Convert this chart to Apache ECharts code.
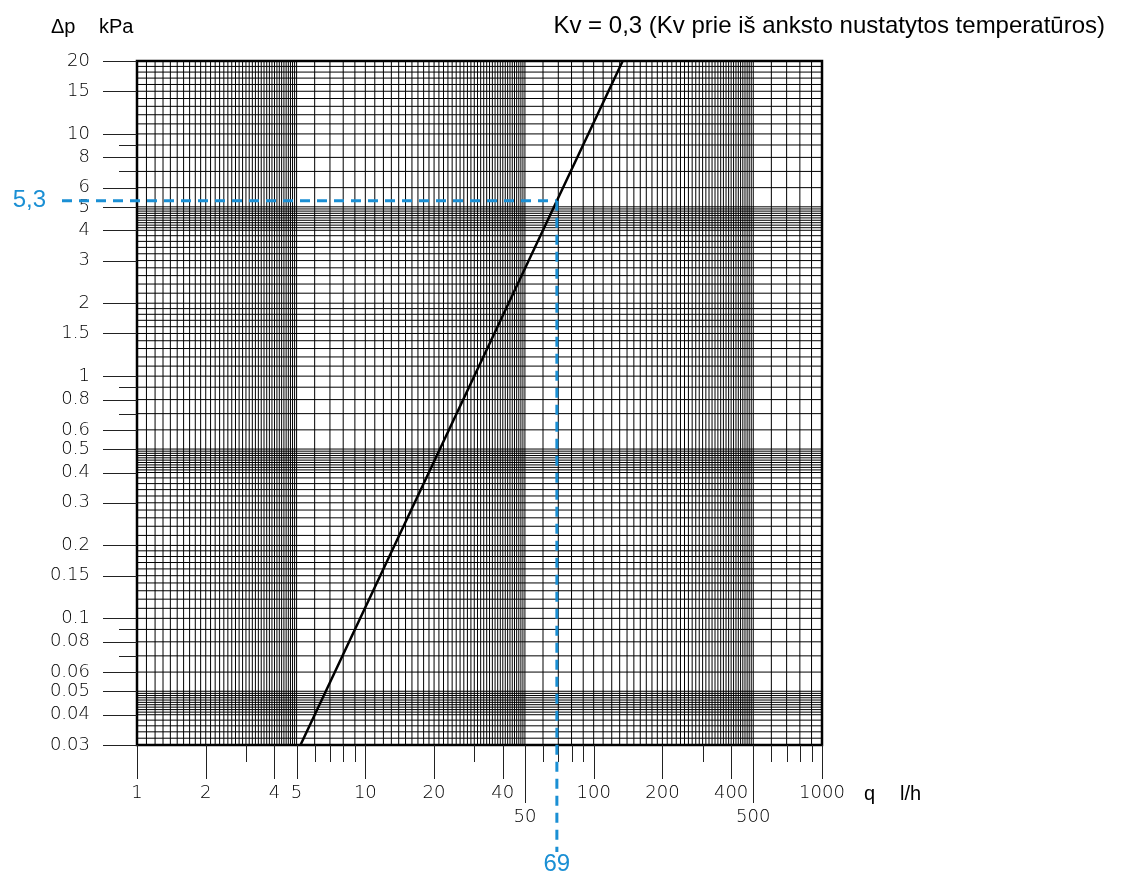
<!DOCTYPE html>
<html><head><meta charset="utf-8">
<script src="https://cdn.jsdelivr.net/npm/echarts@6/dist/echarts.min.js"></script>
<style>html,body{margin:0;padding:0;background:#fff}#c{width:1122px;height:875px}</style>
</head><body><div id="c"></div>
<script>
// ---------- data ----------
const curveQ  = [5.2, 69, 134];          // l/h
const curveDp = [0.03, 5.3, 20];         // kPa
const readQ = 69, readDp = 5.3;
const readQLabel = '69', readDpLabel = '5,3';

const X_MIN = 1, X_MAX = 1000, Y_MIN = 0.03, Y_MAX = 20;

const xLongTicks  = [1, 2, 4, 5, 10, 20, 40, 100, 200, 400, 1000];
const xLongLabels = ['1','2','4','5','10','20','40','100','200','400','1000'];
const xLowTicks   = [50, 500];
const xLowLabels  = ['50','500'];
const xShortTicks = [3, 6, 7, 8, 9, 30, 60, 70, 80, 90, 300, 600, 700, 800, 900];

const yTicks  = [20, 15, 10, 8, 6, 5, 4, 3, 2, 1.5, 1, 0.8, 0.6, 0.5, 0.4, 0.3, 0.2, 0.15, 0.1, 0.08, 0.06, 0.05, 0.04, 0.03];
const yLabels = ['20','15','10','8','6','5','4','3','2','1.5','1','0.8','0.6','0.5','0.4','0.3','0.2','0.15','0.1','0.08','0.06','0.05','0.04','0.03'];
const yShortTicks = [9, 7, 0.9, 0.7, 0.09, 0.07];

// grid line positions inside one decade (mantissas) and the decades used
const xGridMant = [1,1.1,1.2,1.3,1.4,1.5,1.6,1.7,1.8,1.9,2,2.1,2.2,2.3,2.4,2.5,2.6,2.7,2.8,2.9,3,3.1,3.2,3.3,3.4,3.5,3.6,3.7,3.8,3.9,4,4.1,4.2,4.3,4.4,4.5,4.6,4.7,4.8,4.9,5,6,7,8,9];
const xDecades = [1, 10, 100, 1000];
const yGridMant = [1,1.1,1.2,1.3,1.4,1.5,1.6,1.7,1.8,1.9,2,2.2,2.4,2.6,2.8,3,3.2,3.4,3.6,3.8,4,4.1,4.2,4.3,4.4,4.5,4.6,4.7,4.8,4.9,5,6,7,8,9];
const yDecades = [0.01, 0.1, 1, 10];

// ---------- build ----------
function gridValues(mant, decades, lo, hi) {
  const out = [];
  decades.forEach(d => mant.forEach(m => {
    const v = +(m * d).toPrecision(6);
    if (v >= lo * (1 - 1e-9) && v <= hi * (1 + 1e-9)) out.push(v);
  }));
  return out;
}
const xGrid = gridValues(xGridMant, xDecades, X_MIN, X_MAX);
const yGrid = gridValues(yGridMant, yDecades, Y_MIN, Y_MAX);

const TICK_FONT = { fontFamily: 'DejaVu Sans', fontWeight: 200, fontSize: 18, fill: '#000' };
const BLUE = '#1a8fd4';
const GRID_STROKE = { stroke: '#000', lineWidth: 1 };

const chart = echarts.init(document.getElementById('c'), null, { renderer: 'canvas' });

const hiddenAxis = {
  axisLine: { show: false }, axisTick: { show: false },
  axisLabel: { show: false }, splitLine: { show: false }
};

chart.setOption({
  animation: false,
  backgroundColor: '#fff',
  title: {
    text: 'Kv = 0,3 (Kv prie iš anksto nustatytos temperatūros)',
    right: 12, top: 9,
    textStyle: { fontFamily: 'Liberation Sans', fontWeight: 'normal', fontSize: 24, color: '#000' }
  },
  graphic: [
    { type: 'text', left: 51, top: 17, style: { text: 'Δp', font: '20px "Liberation Sans"', fill: '#000' } },
    { type: 'text', left: 99, top: 17, style: { text: 'kPa', font: '20px "Liberation Sans"', fill: '#000' } },
    { type: 'text', left: 864, top: 784, style: { text: 'q', font: '20px "Liberation Sans"', fill: '#000' } },
    { type: 'text', left: 900, top: 784, style: { text: 'l/h', font: '20px "Liberation Sans"', fill: '#000' } }
  ],
  grid: { left: 137, right: 300, top: 61, bottom: 130, show: true, borderColor: '#000', borderWidth: 2.5, backgroundColor: 'transparent' },
  xAxis: Object.assign({ type: 'log', logBase: 10, min: X_MIN, max: X_MAX }, hiddenAxis),
  yAxis: Object.assign({ type: 'log', logBase: 10, min: Y_MIN, max: Y_MAX }, hiddenAxis),
  series: [
    // vertical grid lines
    {
      type: 'custom', silent: true, clip: false, z: 1,
      data: xGrid.map(v => [v, Y_MIN]),
      renderItem: (p, api) => {
        const a = api.coord([api.value(0), Y_MIN]), b = api.coord([api.value(0), Y_MAX]);
        return { type: 'line', shape: { x1: a[0], y1: a[1], x2: b[0], y2: b[1] }, style: GRID_STROKE };
      }
    },
    // horizontal grid lines
    {
      type: 'custom', silent: true, clip: false, z: 1,
      data: yGrid.map(v => [X_MIN, v]),
      renderItem: (p, api) => {
        const a = api.coord([X_MIN, api.value(1)]), b = api.coord([X_MAX, api.value(1)]);
        return { type: 'line', shape: { x1: a[0], y1: a[1], x2: b[0], y2: b[1] }, style: GRID_STROKE };
      }
    },
    // y ticks with labels
    {
      type: 'custom', silent: true, clip: false, z: 2,
      data: yTicks.map((v, i) => [X_MIN, v, i]),
      renderItem: (p, api) => {
        const a = api.coord([X_MIN, api.value(1)]);
        const y = Math.round(a[1]) + 0.5;
        return { type: 'group', children: [
          { type: 'line', shape: { x1: a[0] - 34, y1: y, x2: a[0], y2: y }, style: { stroke: '#222', lineWidth: 1 } },
          { type: 'text', x: a[0] - 47, y: a[1], style: Object.assign({ text: yLabels[api.value(2)], align: 'right', verticalAlign: 'middle' }, TICK_FONT) }
        ]};
      }
    },
    // y short ticks
    {
      type: 'custom', silent: true, clip: false, z: 2,
      data: yShortTicks.map(v => [X_MIN, v]),
      renderItem: (p, api) => {
        const a = api.coord([X_MIN, api.value(1)]);
        const y = Math.round(a[1]) + 0.5;
        return { type: 'line', shape: { x1: a[0] - 18, y1: y, x2: a[0], y2: y }, style: { stroke: '#222', lineWidth: 1 } };
      }
    },
    // x long ticks with labels
    {
      type: 'custom', silent: true, clip: false, z: 2,
      data: xLongTicks.map((v, i) => [v, Y_MIN, i]),
      renderItem: (p, api) => {
        const a = api.coord([api.value(0), Y_MIN]);
        const x = Math.round(a[0]) + 0.5;
        return { type: 'group', children: [
          { type: 'line', shape: { x1: x, y1: a[1], x2: x, y2: a[1] + 34 }, style: { stroke: '#222', lineWidth: 1 } },
          { type: 'text', x: a[0], y: a[1] + 48, style: Object.assign({ text: xLongLabels[api.value(2)], align: 'center', verticalAlign: 'middle' }, TICK_FONT) }
        ]};
      }
    },
    // x lower-labelled ticks (50, 500)
    {
      type: 'custom', silent: true, clip: false, z: 2,
      data: xLowTicks.map((v, i) => [v, Y_MIN, i]),
      renderItem: (p, api) => {
        const a = api.coord([api.value(0), Y_MIN]);
        const x = Math.round(a[0]) + 0.5;
        return { type: 'group', children: [
          { type: 'line', shape: { x1: x, y1: a[1], x2: x, y2: a[1] + 58 }, style: { stroke: '#222', lineWidth: 1 } },
          { type: 'text', x: a[0], y: a[1] + 72, style: Object.assign({ text: xLowLabels[api.value(2)], align: 'center', verticalAlign: 'middle' }, TICK_FONT) }
        ]};
      }
    },
    // x short ticks
    {
      type: 'custom', silent: true, clip: false, z: 2,
      data: xShortTicks.map(v => [v, Y_MIN]),
      renderItem: (p, api) => {
        const a = api.coord([api.value(0), Y_MIN]);
        const x = Math.round(a[0]) + 0.5;
        return { type: 'line', shape: { x1: x, y1: a[1], x2: x, y2: a[1] + 17 }, style: { stroke: '#222', lineWidth: 1 } };
      }
    },
    // characteristic curve
    {
      type: 'line', z: 5, symbol: 'none', silent: true,
      data: curveQ.map((q, i) => [q, curveDp[i]]),
      lineStyle: { color: '#000', width: 2.5 }
    },
    // reading lines
    {
      type: 'custom', silent: true, clip: false, z: 6,
      data: [[readQ, readDp]],
      renderItem: (p, api) => {
        const c = api.coord([api.value(0), api.value(1)]);
        const dash = { stroke: BLUE, lineWidth: 3, lineDash: [10, 7] };
        return { type: 'group', children: [
          { type: 'line', shape: { x1: 62, y1: c[1], x2: c[0], y2: c[1] }, style: dash },
          { type: 'line', shape: { x1: c[0], y1: c[1], x2: c[0], y2: 852 }, style: dash },
          { type: 'text', x: 46, y: c[1], style: { text: readDpLabel, align: 'right', verticalAlign: 'middle', font: '24px "Liberation Sans"', fill: BLUE } },
          { type: 'text', x: c[0], y: 864, style: { text: readQLabel, align: 'center', verticalAlign: 'middle', font: '24px "Liberation Sans"', fill: BLUE } }
        ]};
      }
    }
  ]
});
</script></body></html>
